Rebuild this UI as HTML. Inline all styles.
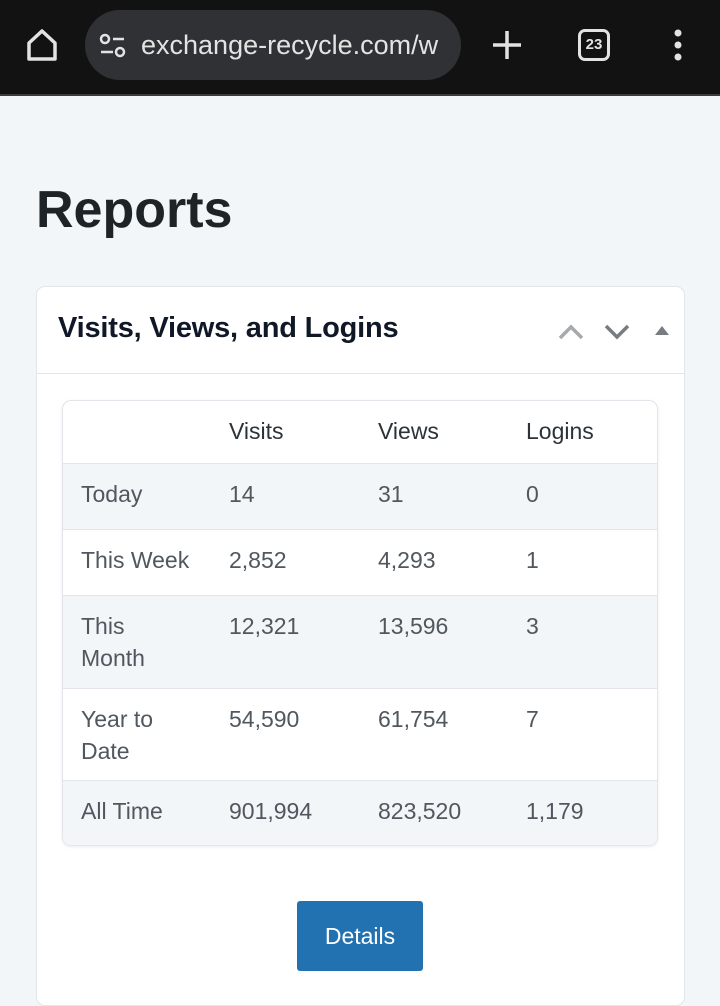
<!DOCTYPE html>
<html><head><meta charset="utf-8"><style>
*{margin:0;padding:0;box-sizing:border-box}
body{width:720px;height:998px;overflow:hidden;background:#f3f6f9;font-family:"Liberation Sans",sans-serif;position:relative}
.bar{position:absolute;left:0;top:0;width:720px;background:#121212;border-bottom:2px solid #3a3a3a;height:96px}
.url{position:absolute;left:85px;top:10px;width:376px;height:70px;border-radius:35px;background:#303134;color:#e3e3e3;font-size:27px;line-height:70px;padding-left:56px;white-space:nowrap;overflow:hidden}
.abs{position:absolute}
h1{position:absolute;left:36px;top:180px;font-size:52px;font-weight:bold;color:#1d2327}
.card{position:absolute;left:36px;top:286px;width:649px;height:720px;background:#fff;border:1px solid #e2e5ea;border-radius:9px}
.hd{position:absolute;left:0;top:0;width:100%;height:87px;border-bottom:1px solid #e2e5ea}
.hd span{position:absolute;left:21px;top:25px;font-size:29px;font-weight:bold;color:#101828;letter-spacing:-0.2px}
.tbl{position:absolute;left:25px;top:113px;width:596px;height:446px;border:1px solid #e2e5ea;border-radius:9px;overflow:hidden;box-shadow:0 1px 3px rgba(0,0,0,.08)}
.row{position:absolute;left:0;width:100%;border-top:1px solid #e2e5ea;font-size:23px;color:#50575e;line-height:32px}
.row div{position:absolute;top:14px}
.s{background:#f3f6f9}
.btn{position:absolute;left:260px;top:614px;width:126px;height:70px;background:#2271b1;border-radius:3px;color:#fff;font-size:23px;line-height:70px;text-align:center}
</style></head><body>
<div class="bar">
<svg class="abs" style="left:26px;top:28px" width="32" height="34" viewBox="0 0 32 34"><path d="M3 15 L16 3 L29 15 V31 H3 Z" fill="none" stroke="#e3e3e3" stroke-width="3.5" stroke-linejoin="round"/></svg>
<div class="url">exchange-recycle.com/w</div>
<svg class="abs" style="left:99px;top:32px" width="28" height="28" viewBox="0 0 28 28"><circle cx="6" cy="7" r="4" fill="none" stroke="#e3e3e3" stroke-width="2.5"/><line x1="14" y1="7" x2="25" y2="7" stroke="#e3e3e3" stroke-width="2.5"/><line x1="2" y1="20" x2="14" y2="20" stroke="#e3e3e3" stroke-width="2.5"/><circle cx="21" cy="20" r="4" fill="none" stroke="#e3e3e3" stroke-width="2.5"/></svg>
<svg class="abs" style="left:491px;top:29px" width="32" height="32"><line x1="16" y1="2" x2="16" y2="30" stroke="#e3e3e3" stroke-width="3.5"/><line x1="2" y1="16" x2="30" y2="16" stroke="#e3e3e3" stroke-width="3.5"/></svg>
<div class="abs" style="left:578px;top:29px;width:32px;height:32px;border:3px solid #e3e3e3;border-radius:7px;color:#e3e3e3;font-size:15px;font-weight:bold;text-align:center;line-height:26px">23</div>
<svg class="abs" style="left:670px;top:28px" width="16" height="34"><circle cx="8" cy="5" r="3.5" fill="#e3e3e3"/><circle cx="8" cy="17" r="3.5" fill="#e3e3e3"/><circle cx="8" cy="29" r="3.5" fill="#e3e3e3"/></svg>
</div>
<h1>Reports</h1>
<div class="card">
<div class="hd"><span>Visits, Views, and Logins</span>
<svg class="abs" style="left:520px;top:36px" width="28" height="18"><polyline points="3,15 14,4 25,15" fill="none" stroke="#a7aaad" stroke-width="3.5"/></svg>
<svg class="abs" style="left:566px;top:36px" width="28" height="18"><polyline points="3,3 14,14 25,3" fill="none" stroke="#787c82" stroke-width="3.5"/></svg>
<svg class="abs" style="left:617px;top:37px" width="16" height="12"><polygon points="1,11 8,2 15,11" fill="#787c82"/></svg>
</div>
<div class="tbl">
<div class="row" style="top:0;height:62px;border-top:none;color:#2c3338"><div style="left:166px">Visits</div><div style="left:315px">Views</div><div style="left:463px">Logins</div></div>
<div class="row s" style="top:62px;height:66px"><div style="left:18px">Today</div><div style="left:166px">14</div><div style="left:315px">31</div><div style="left:463px">0</div></div>
<div class="row" style="top:128px;height:66px"><div style="left:18px">This Week</div><div style="left:166px">2,852</div><div style="left:315px">4,293</div><div style="left:463px">1</div></div>
<div class="row s" style="top:194px;height:93px"><div style="left:18px">This<br>Month</div><div style="left:166px">12,321</div><div style="left:315px">13,596</div><div style="left:463px">3</div></div>
<div class="row" style="top:287px;height:92px"><div style="left:18px">Year to<br>Date</div><div style="left:166px">54,590</div><div style="left:315px">61,754</div><div style="left:463px">7</div></div>
<div class="row s" style="top:379px;height:67px"><div style="left:18px">All Time</div><div style="left:166px">901,994</div><div style="left:315px">823,520</div><div style="left:463px">1,179</div></div>
</div>
<div class="btn">Details</div>
</div>
</body></html>
